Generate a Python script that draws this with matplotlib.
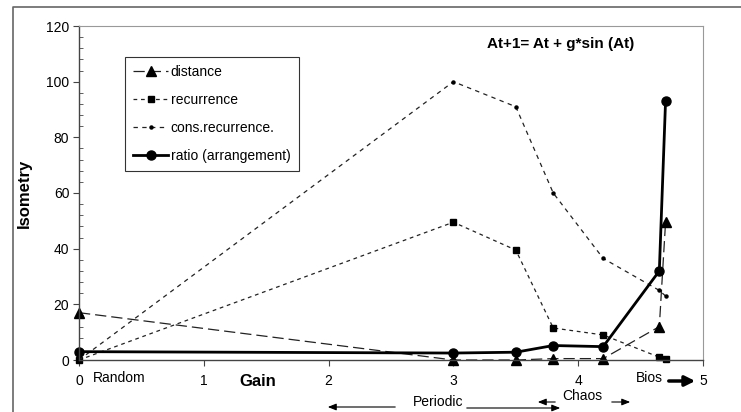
import matplotlib
matplotlib.use("Agg")
import matplotlib.pyplot as plt
from matplotlib.lines import Line2D
from matplotlib.ticker import MultipleLocator

plt.rcParams["font.family"] = ["Liberation Sans", "DejaVu Sans"]

# ---- data ----
gain = [0, 3, 3.5, 3.8, 4.2, 4.65, 4.7]
distance = [17, 0, 0, 0.5, 0.5, 12, 49.5]
recurrence = [0, 49.5, 39.5, 11.5, 9, 1, 0.5]
cons_recurrence = [0, 100, 91, 60, 36.5, 25, 23]
ratio = [3, 2.5, 2.8, 5.2, 4.8, 32, 93]

x_ticks = [0, 1, 2, 3, 4, 5]
y_ticks = [0, 20, 40, 60, 80, 100, 120]

W, H = 741, 412
FS = 10
fig = plt.figure(figsize=(W / 100, H / 100), dpi=100)
fig.patch.set_facecolor("white")
ax = fig.add_axes([79 / W, 1 - 360 / H, (703 - 79) / W, (360 - 26) / H])

ax.plot(gain, distance, color="#222222", lw=0.9, dashes=(9, 4),
        marker="^", ms=7, mfc="black", mec="black", label="distance", clip_on=False)
ax.plot(gain, recurrence, color="#222222", lw=0.9, dashes=(3, 3),
        marker="s", ms=5, mfc="black", mec="black", label="recurrence", clip_on=False)
ax.plot(gain, cons_recurrence, color="#222222", lw=0.9, dashes=(3.5, 3.5),
        marker="o", ms=2.2, mfc="black", mec="black", label="cons.recurrence.",
        clip_on=False)
ax.plot(gain, ratio, color="black", lw=2, marker="o", ms=6.5,
        mfc="black", mec="black", label="ratio (arrangement)", clip_on=False)

ax.set_xlim(0, 5)
ax.set_ylim(0, 120)
ax.set_xticks(x_ticks)
ax.set_xticklabels([str(t) for t in x_ticks])
ax.set_yticks(y_ticks)
ax.yaxis.set_minor_locator(MultipleLocator(4))
ax.tick_params(axis="both", which="major", labelsize=FS, color="#444444",
               direction="out", length=4)
ax.tick_params(axis="x", pad=6)
ax.tick_params(axis="y", pad=3)
ax.tick_params(axis="y", which="minor", direction="in", length=3, color="#444444")

for side in ["left", "bottom"]:
    ax.spines[side].set_color("#444444")
    ax.spines[side].set_linewidth(1)
for side in ["top", "right"]:
    ax.spines[side].set_color("#999999")
    ax.spines[side].set_linewidth(0.8)

ax.set_ylabel("Isometry", fontsize=12, fontweight="bold")
ax.yaxis.set_label_coords(-0.075, 0.5)

ax.text(0.772, 0.946, "At+1= At + g*sin (At)", transform=ax.transAxes,
        fontsize=11, fontweight="bold", ha="center", va="center")

leg = ax.legend(loc="upper left", bbox_to_anchor=((125 - 79) / 624, 1 - (57 - 26) / 334),
                fontsize=FS, frameon=True, fancybox=False, edgecolor="black",
                handlelength=2.5, labelspacing=1.0, borderpad=0.6,
                handletextpad=0.2, borderaxespad=0)
leg.get_frame().set_linewidth(0.8)

# ---- annotations under the axis (figure pixel coordinates) ----
def fy(py):
    return H - py

fig.text(258 / W, fy(382) / H, "Gain", fontsize=12, fontweight="bold",
         ha="center", va="center")
fig.text(93 / W, fy(378) / H, "Random", fontsize=FS, ha="left", va="center")

arrow = dict(arrowstyle="-|>,head_length=0.5,head_width=0.2", color="black", lw=0.8)
ax.annotate("", xy=(325, fy(407)), xytext=(398, fy(407)),
            xycoords="figure pixels", textcoords="figure pixels", arrowprops=arrow)
fig.text(438 / W, fy(402) / H, "Periodic", fontsize=FS, ha="center", va="center")
ax.annotate("", xy=(563, fy(408)), xytext=(464, fy(408)),
            xycoords="figure pixels", textcoords="figure pixels", arrowprops=arrow)

fig.text(582 / W, fy(396) / H, "Chaos", fontsize=FS, ha="center", va="center")
ax.annotate("", xy=(535, fy(402)), xytext=(558, fy(402)),
            xycoords="figure pixels", textcoords="figure pixels", arrowprops=arrow)
ax.annotate("", xy=(633, fy(402)), xytext=(609, fy(402)),
            xycoords="figure pixels", textcoords="figure pixels", arrowprops=arrow)

fig.text(649 / W, fy(378) / H, "Bios", fontsize=FS, ha="center", va="center")
ax.annotate("", xy=(698, fy(381)), xytext=(666, fy(381)),
            xycoords="figure pixels", textcoords="figure pixels",
            arrowprops=dict(arrowstyle="-|>,head_length=0.6,head_width=0.3",
                            color="black", lw=2.5))

# outer chart border (top and left only, the rest is cropped)
fig.add_artist(Line2D([13 / W, 13 / W, 1], [0, fy(7) / H, fy(7) / H],
                      transform=fig.transFigure, color="#666666", lw=1.2))

fig.savefig("out.png", dpi=100, facecolor="white")
